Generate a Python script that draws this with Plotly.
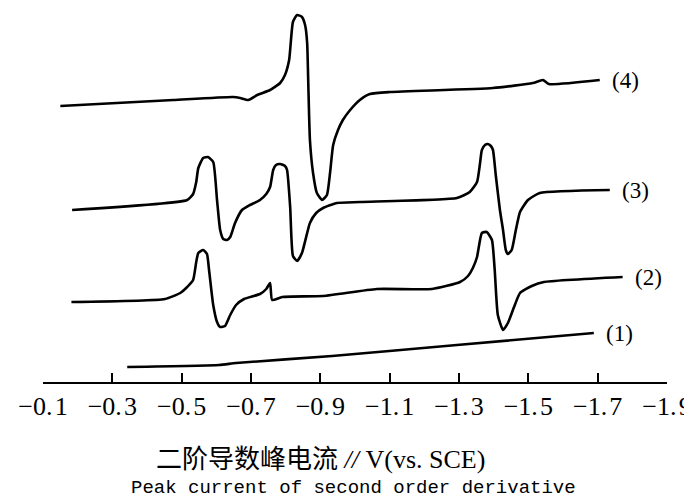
import plotly.graph_objects as go

# Potential (V vs. SCE) and relative signal (arbitrary units)
pot_1 = [-0.343, -0.608, -0.657, -0.934, -1.294, -1.689]
sig_1 = [15, 17, 19, 26, 37, 49]

pot_2 = [-0.182, -0.452, -0.496, -0.513, -0.533, -0.542, -0.548, -0.562, -0.573, -0.579,
         -0.591, -0.602, -0.611, -0.625, -0.640, -0.657, -0.680, -0.726, -0.744, -0.755,
         -0.761, -0.790, -0.908, -1.063, -1.222, -1.303, -1.326, -1.340, -1.352, -1.366,
         -1.380, -1.395, -1.403, -1.412, -1.427, -1.441, -1.461, -1.476, -1.510, -1.545,
         -1.772]
sig_2 = [80, 83, 89, 94, 102, 120, 129, 132, 128, 112,
         77, 60, 55, 56, 67, 77, 83, 88, 93, 99,
         82, 85, 86, 93, 93, 100, 106, 114, 125, 149,
         150, 142, 112, 67, 52, 59, 77, 89, 96, 100,
         105]

pot_3 = [-0.184, -0.516, -0.533, -0.542, -0.548, -0.562, -0.576, -0.591, -0.602, -0.611,
         -0.620, -0.631, -0.640, -0.654, -0.674, -0.697, -0.726, -0.744, -0.755, -0.764,
         -0.772, -0.784, -0.798, -0.804, -0.813, -0.821, -0.833, -0.847, -0.870, -0.888,
         -0.908, -0.948, -1.014, -1.294, -1.331, -1.352, -1.360, -1.366, -1.375, -1.383,
         -1.392, -1.398, -1.406, -1.418, -1.427, -1.435, -1.441, -1.452, -1.464, -1.476,
         -1.499, -1.533, -1.735]
sig_3 = [172, 182, 188, 200, 214, 224, 225, 220, 182, 152,
         143, 142, 145, 159, 172, 177, 182, 188, 195, 212,
         217, 218, 216, 212, 175, 126, 121, 129, 159, 169,
         174, 179, 180, 184, 190, 200, 217, 232, 237, 238,
         236, 232, 207, 172, 152, 132, 128, 132, 152, 170,
         182, 189, 192]

pot_4 = [-0.150, -0.476, -0.648, -0.669, -0.692, -0.718, -0.755, -0.784, -0.798, -0.810,
         -0.821, -0.833, -0.847, -0.856, -0.862, -0.865, -0.870, -0.879, -0.890, -0.905,
         -0.919, -0.928, -0.937, -0.951, -0.965, -0.986, -1.014, -1.043, -1.101, -1.398,
         -1.513, -1.542, -1.559, -1.706]
sig_4 = [276, 282, 285, 284, 282, 287, 292, 299, 307, 322,
         360, 367, 365, 357, 339, 302, 242, 209, 189, 182,
         187, 209, 237, 252, 262, 272, 282, 288, 290, 294,
         299, 302, 298, 302]

curve_labels = ["(1)", "(2)", "(3)", "(4)"]
tick_vals = [-0.1, -0.3, -0.5, -0.7, -0.9, -1.1, -1.3, -1.5, -1.7, -1.9]
tick_text = ["−0.\u200a1", "−0.\u200a3", "−0.\u200a5", "−0.\u200a7", "−0.\u200a9",
             "−1.\u200a1", "−1.\u200a3", "−1.\u200a5", "−1.\u200a7", "−1.\u200a9"]
title_cn = "二阶导数峰电流 <i>//</i> V(vs. SCE)"
title_en = "Peak current of second order derivative"

series = [(pot_1, sig_1), (pot_2, sig_2), (pot_3, sig_3), (pot_4, sig_4)]

fig = go.Figure()
for (px, sy) in series:
    fig.add_trace(go.Scatter(x=px, y=sy, mode="lines",
                             line=dict(color="black", width=2.6, shape="spline", smoothing=0.5),
                             showlegend=False, hoverinfo="skip"))

for (px, sy), lab in zip(series, curve_labels):
    fig.add_annotation(x=px[-1], y=sy[-1], xref="x", yref="y", text=lab, showarrow=False,
                       xanchor="left", yanchor="middle", xshift=10,
                       font=dict(family="Liberation Serif", size=23, color="black"))

fig.add_annotation(x=0.4455, y=-0.206, xref="paper", yref="paper", text=title_cn, showarrow=False,
                   xanchor="center", yanchor="middle",
                   font=dict(family="Liberation Serif, Noto Sans CJK SC", size=26, color="black"))
fig.add_annotation(x=0.498, y=-0.283, xref="paper", yref="paper", text=title_en, showarrow=False,
                   xanchor="center", yanchor="middle",
                   font=dict(family="Liberation Mono", size=19, color="black"))

fig.update_xaxes(range=[-0.1, -1.9], tickvals=tick_vals, ticktext=tick_text,
                 showline=True, linecolor="black", linewidth=2, automargin=False,
                 ticks="inside", ticklen=9, tickwidth=2, tickcolor="black",
                 showgrid=False, zeroline=False,
                 tickfont=dict(family="Liberation Serif", size=26, color="black"))
fig.update_yaxes(range=[0, 374], visible=False, showgrid=False, zeroline=False, automargin=False)

fig.update_layout(width=684, height=492, margin=dict(l=35, r=25, t=0, b=118, pad=0),
                  plot_bgcolor="white", paper_bgcolor="white")

fig.write_html("out.html")
